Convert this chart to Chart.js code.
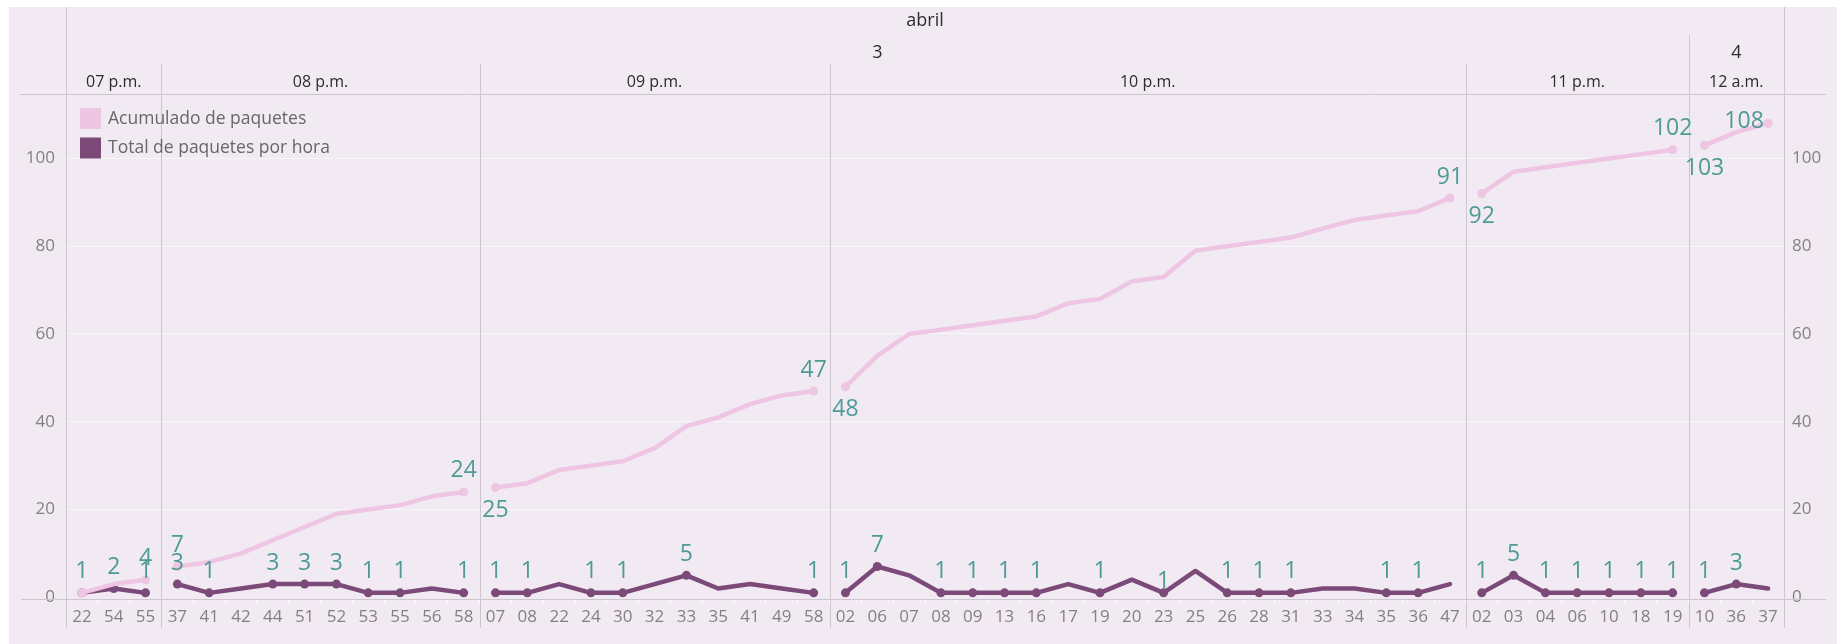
<!DOCTYPE html>
<html>
<head>
<meta charset="utf-8">
<script src="https://cdn.jsdelivr.net/npm/chart.js@4.4.1/dist/chart.umd.min.js"></script>
<style>
  html, body { margin: 0; padding: 0; background: #fff; }
</style>
</head>
<body>
<canvas id="paquetes_Chart" width="1837" height="644"></canvas>
<script>
// données
const month = 'abril';
const days = ['3', '4'];
const dayHours = [5, 1];           // nb d'heures par jour
const hours = ['07 p.m.', '08 p.m.', '09 p.m.', '10 p.m.', '11 p.m.', '12 a.m.'];
const hourMinutes = [
  ['22', '54', '55'],
  ['37', '41', '42', '44', '51', '52', '53', '55', '56', '58'],
  ['07', '08', '22', '24', '30', '32', '33', '35', '41', '49', '58'],
  ['02', '06', '07', '08', '09', '13', '16', '17', '19', '20', '23', '25', '26', '28', '31', '33', '34', '35', '36', '47'],
  ['02', '03', '04', '06', '10', '18', '19'],
  ['10', '36', '37']
];
const acumulado = [1, 3, 4,
  7, 8, 10, 13, 16, 19, 20, 21, 23, 24,
  25, 26, 29, 30, 31, 34, 39, 41, 44, 46, 47,
  48, 55, 60, 61, 62, 63, 64, 67, 68, 72, 73, 79, 80, 81, 82, 84, 86, 87, 88, 91,
  92, 97, 98, 99, 100, 101, 102,
  103, 106, 108];
const totalHora = [1, 2, 1,
  3, 1, 2, 3, 3, 3, 1, 1, 2, 1,
  1, 1, 3, 1, 1, 3, 5, 2, 3, 2, 1,
  1, 7, 5, 1, 1, 1, 1, 3, 1, 4, 1, 6, 1, 1, 1, 2, 2, 1, 1, 3,
  1, 5, 1, 1, 1, 1, 1,
  1, 3, 2];
const yTicks = [0, 20, 40, 60, 80, 100];

// étiquettes affichées (comme Tableau) : index -> position
const labelsAcum = { 2: 'up', 3: 'up', 12: 'up', 13: 'down', 23: 'up', 24: 'down', 43: 'up', 44: 'down', 50: 'up', 51: 'down', 53: 'left' };
const labelsTotal = { 0: 'up', 1: 'up', 2: 'up', 3: 'up', 4: 'up', 6: 'up', 7: 'up', 8: 'up', 9: 'up', 10: 'up', 12: 'up',
  13: 'up', 14: 'up', 16: 'up', 17: 'up', 19: 'up', 23: 'up',
  24: 'up', 25: 'up', 27: 'up', 28: 'up', 29: 'up', 30: 'up', 32: 'up', 34: 'low', 36: 'up', 37: 'up', 38: 'up', 41: 'up', 42: 'up',
  44: 'up', 45: 'up', 46: 'up', 47: 'up', 48: 'up', 49: 'up', 50: 'up', 51: 'up', 52: 'up' };

const minutes = hourMinutes.flat();
const paneStart = [];
let n = 0;
hourMinutes.forEach(m => { paneStart.push(n); n += m.length; });
const isStart = i => paneStart.includes(i);
const isEnd = i => isStart(i + 1) || i === minutes.length - 1;

const PINK = '#EEC5E2', PURPLE = '#7B4A79', TEAL = '#4E9B95';
const GREY = '#857f82', LINE = '#CDC6CE';
const FONT = '"Open Sans", "DejaVu Sans", sans-serif';

const breakSegment = ctx => isStart(ctx.p1DataIndex) ? 'rgba(0,0,0,0)' : undefined;

const framePlugin = {
  id: 'frame',
  beforeDraw(chart) {
    const c = chart.ctx;
    c.save();
    c.fillStyle = '#ffffff';
    c.fillRect(0, 0, chart.width, chart.height);
    c.fillStyle = '#F1EAF3';
    c.fillRect(9, 7, chart.width - 9, chart.height - 7);
    c.restore();
  },
  beforeDatasetsDraw(chart) {
    const { ctx: c, chartArea: a, scales: { x } } = chart;
    const half = (x.getPixelForValue(1) - x.getPixelForValue(0)) / 2;
    const edge = i => Math.round(x.getPixelForValue(i) - half) + 0.5;
    c.save();
    c.strokeStyle = LINE;
    c.lineWidth = 1;
    const vline = (px, y0, y1) => { c.beginPath(); c.moveTo(px, y0); c.lineTo(px, y1); c.stroke(); };
    const hline = (py, x0, x1) => { c.beginPath(); c.moveTo(x0, py); c.lineTo(x1, py); c.stroke(); };
    hline(Math.round(a.top) + 0.5, 20, 1826);
    hline(Math.round(a.bottom) + 0.5, 21, 1826);
    vline(Math.round(a.left) + 0.5, 7, 628);
    vline(Math.round(a.right) + 0.5, 7, 628);
    // séparation des jours
    let h = 0;
    dayHours.forEach((cnt, d) => {
      if (d > 0) vline(edge(paneStart[h]), 35, 628);
      h += cnt;
    });
    // séparation des heures
    paneStart.forEach((s, k) => {
      if (k === 0) return;
      let dayEdge = false, acc = 0;
      dayHours.forEach(cnt => { acc += cnt; if (acc === k) dayEdge = true; });
      if (!dayEdge) vline(edge(s), 64, 628);
    });
    c.restore();
  },
  afterDatasetsDraw(chart) {
    const c = chart.ctx;
    c.save();
    c.fillStyle = TEAL;
    c.font = '23px ' + FONT;
    c.textAlign = 'center';
    c.textBaseline = 'middle';
    const draw = (dsIndex, values, spec) => {
      const meta = chart.getDatasetMeta(dsIndex);
      Object.keys(spec).forEach(k => {
        const i = +k, pt = meta.data[i];
        let px = pt.x, py = pt.y;
        if (spec[k] === 'up') py -= 21;
        else if (spec[k] === 'down') py += 23;
        else if (spec[k] === 'low') py -= 11;
        else if (spec[k] === 'left') { px -= 24; py -= 2; }
        c.fillText(String(values[i]), px, py);
      });
    };
    draw(1, totalHora, labelsTotal);
    draw(0, acumulado, labelsAcum);
    c.restore();
  },
  afterDraw(chart) {
    const { ctx: c, chartArea: a, scales: { x } } = chart;
    const half = (x.getPixelForValue(1) - x.getPixelForValue(0)) / 2;
    const edge = i => (i >= minutes.length ? a.right : x.getPixelForValue(i) - half);
    c.save();
    c.fillStyle = '#2e2a2e';
    c.textAlign = 'center';
    c.textBaseline = 'middle';
    c.font = '18px ' + FONT;
    c.fillText(month, (a.left + a.right) / 2, 21);
    let h = 0;
    days.forEach((d, k) => {
      const x0 = edge(paneStart[h]);
      h += dayHours[k];
      const x1 = edge(h < paneStart.length ? paneStart[h] : minutes.length);
      c.fillText(d, (x0 + x1) / 2, 53);
    });
    c.font = '16px ' + FONT;
    hours.forEach((lab, k) => {
      const x0 = edge(paneStart[k]);
      const x1 = edge(k + 1 < paneStart.length ? paneStart[k + 1] : minutes.length);
      c.fillText(lab, (x0 + x1) / 2, 82);
    });
    // légende
    const items = [['Acumulado de paquetes', PINK], ['Total de paquetes por hora', PURPLE]];
    c.textAlign = 'left';
    c.font = '17.5px ' + FONT;
    items.forEach(([txt, col], k) => {
      const top = 108 + k * 29.5;
      c.fillStyle = col;
      c.fillRect(80, top, 21, 21);
      c.fillStyle = '#6a656a';
      c.fillText(txt, 108, top + 11);
    });
    c.restore();
  }
};

const ctx_line = document.getElementById('paquetes_Chart').getContext('2d');
const axisTicks = {
  stepSize: 20,
  includeBounds: false,
  color: GREY,
  font: { family: FONT, size: 17 },
  callback: v => (yTicks.includes(v) ? String(v) : '')
};

const myChartLine = new Chart(ctx_line, {
  type: 'line',
  data: {
    labels: minutes,
    datasets: [{
      label: 'Acumulado de paquetes',
      data: acumulado,
      borderColor: PINK,
      backgroundColor: PINK,
      borderWidth: 4.5,
      borderJoinStyle: 'round',
      borderCapStyle: 'round',
      pointRadius: minutes.map((m, i) => (isStart(i) || isEnd(i) ? 4.5 : 0)),
      pointBorderWidth: 0,
      tension: 0,
      segment: { borderColor: breakSegment }
    }, {
      label: 'Total de paquetes por hora',
      data: totalHora,
      borderColor: PURPLE,
      backgroundColor: PURPLE,
      borderWidth: 4.5,
      borderJoinStyle: 'round',
      borderCapStyle: 'round',
      pointRadius: minutes.map((m, i) => (labelsTotal[i] ? 4.5 : 0)),
      pointBorderWidth: 0,
      tension: 0,
      segment: { borderColor: breakSegment }
    }]
  },
  options: {
    responsive: false,
    animation: false,
    events: [],
    layout: { padding: { top: 94, left: 9, right: 0, bottom: 0 } },
    plugins: { legend: { display: false }, tooltip: { enabled: false } },
    scales: {
      x: {
        type: 'category',
        offset: true,
        grid: { offset: true, drawOnChartArea: false, tickLength: 4, color: 'rgba(255,255,255,0.9)' },
        border: { display: false },
        ticks: { autoSkip: false, maxRotation: 0, padding: 4, color: GREY, font: { family: FONT, size: 17 } },
        afterFit: s => { s.height = 45; }
      },
      y: {
        position: 'left',
        min: -0.4,
        max: 114.7,
        grid: { drawTicks: false, color: c => (c.tick && c.tick.value === 0 ? 'rgba(0,0,0,0)' : 'rgba(255,255,255,0.55)') },
        border: { display: false },
        ticks: Object.assign({ padding: 11 }, axisTicks),
        afterFit: s => { s.width = 57; }
      },
      y2: {
        position: 'right',
        min: -0.4,
        max: 114.7,
        grid: { display: false, drawTicks: false },
        border: { display: false },
        ticks: Object.assign({ padding: 8 }, axisTicks),
        afterFit: s => { s.width = 53; }
      }
    }
  },
  plugins: [framePlugin]
});
</script>
</body>
</html>
